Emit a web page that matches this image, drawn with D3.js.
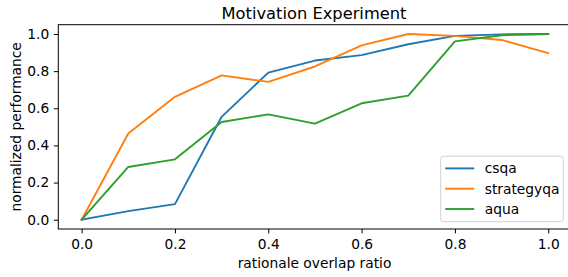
<!DOCTYPE html>
<html>
<head>
<meta charset="utf-8">
<script src="https://cdn.jsdelivr.net/npm/d3@7"></script>
<style>
  body { margin: 0; background: #fff; }
  svg { display: block; font-family: "DejaVu Sans", sans-serif; }
</style>
</head>
<body>
<div id="chart"></div>
<script>
// values
const ratios = [0.0, 0.1, 0.2, 0.3, 0.4, 0.5, 0.6, 0.7, 0.8, 0.9, 1.0]
const csqa = [0.0, 0.046, 0.084, 0.554, 0.792, 0.857, 0.886, 0.945, 0.99, 0.998, 1.0]
const strategyqa = [0.0, 0.464, 0.662, 0.777, 0.742, 0.825, 0.939, 1.0, 0.99, 0.968, 0.897]
const aqua = [0.0, 0.284, 0.325, 0.526, 0.567, 0.517, 0.627, 0.668, 0.96, 0.993, 1.0]
const seriesNames = ["csqa", "strategyqa", "aqua"]
const xTicks = [0.0, 0.2, 0.4, 0.6, 0.8, 1.0]
const yTicks = [0.0, 0.2, 0.4, 0.6, 0.8, 1.0]

function drawChart() {
    const series = [csqa, strategyqa, aqua]
    const colors = ["#1f77b4", "#ff7f0e", "#2ca02c"]
    const fontSize = 13.8

    let dimensions = {
        width: 568,
        height: 277,
        margin: {
            top: 24.7,
            right: -3.6,
            bottom: 48,
            left: 58.3,
        },
    }
    dimensions.boundedWidth = dimensions.width - dimensions.margin.left - dimensions.margin.right
    dimensions.boundedHeight = dimensions.height - dimensions.margin.top - dimensions.margin.bottom

    const svg = d3.select("#chart").append("svg")
        .attr("width", dimensions.width)
        .attr("height", dimensions.height)

    const bounds = svg.append("g")
        .attr("transform", `translate(${dimensions.margin.left},${dimensions.margin.top})`)

    // matplotlib style 5% padding on both axes
    let x = d3.scaleLinear()
        .domain([-0.05, 1.05])
        .range([0, dimensions.boundedWidth])

    let y = d3.scaleLinear()
        .domain([-0.05, 1.05])
        .range([dimensions.boundedHeight, 0])

    const line = d3.line()
        .x((d, i) => x(ratios[i]))
        .y(d => y(d))

    bounds.selectAll("path.series")
        .data(series)
        .enter()
        .append("path")
        .attr("class", "series")
        .attr("d", d => line(d))
        .attr("fill", "none")
        .attr("stroke", (d, i) => colors[i])
        .attr("stroke-width", 1.9)
        .attr("stroke-linejoin", "round")
        .attr("stroke-linecap", "square")

    // axes
    const xAxis = bounds.append("g")
        .attr("transform", `translate(0,${dimensions.boundedHeight})`)
        .call(d3.axisBottom(x).tickValues(xTicks).tickFormat(d3.format(".1f")).tickSize(4.4).tickPadding(5.8).tickSizeOuter(0))
    const yAxis = bounds.append("g")
        .call(d3.axisLeft(y).tickValues(yTicks).tickFormat(d3.format(".1f")).tickSize(4.4).tickPadding(4.6).tickSizeOuter(0))

    for (const ax of [xAxis, yAxis]) {
        ax.select(".domain").remove()
        ax.selectAll("line").attr("stroke", "#000").attr("stroke-width", 1)
        ax.selectAll("text").attr("font-size", fontSize).attr("fill", "#000").attr("font-family", "DejaVu Sans")
    }

    // spines
    bounds.append("rect")
        .attr("x", 0)
        .attr("y", 0)
        .attr("width", dimensions.boundedWidth)
        .attr("height", dimensions.boundedHeight)
        .attr("fill", "none")
        .attr("stroke", "#000")
        .attr("stroke-width", 1)

    // title and labels
    svg.append("text")
        .attr("x", 314)
        .attr("y", 18.5)
        .attr("text-anchor", "middle")
        .attr("font-size", 16.3)
        .text("Motivation Experiment")

    svg.append("text")
        .attr("x", 314.5)
        .attr("y", 268)
        .attr("text-anchor", "middle")
        .attr("font-size", fontSize)
        .text("rationale overlap ratio")

    svg.append("text")
        .attr("transform", `translate(20.5,${dimensions.margin.top + dimensions.boundedHeight / 2}) rotate(-90)`)
        .attr("text-anchor", "middle")
        .attr("font-size", fontSize)
        .text("normalized performance")

    // legend
    const legend = svg.append("g").attr("transform", "translate(440.7,156.2)")
    legend.append("rect")
        .attr("width", 122.6)
        .attr("height", 65.5)
        .attr("rx", 3)
        .attr("fill", "#fff")
        .attr("fill-opacity", 0.8)
        .attr("stroke", "#d0d0d0")
        .attr("stroke-width", 1)

    seriesNames.forEach((name, i) => {
        const row = legend.append("g").attr("transform", `translate(0,${12.2 + i * 20.3})`)
        row.append("line")
            .attr("x1", 4.5)
            .attr("x2", 33.5)
            .attr("stroke", colors[i])
            .attr("stroke-width", 1.9)
        row.append("text")
            .attr("x", 44)
            .attr("dy", "0.36em")
            .attr("font-size", fontSize)
            .text(name)
    })
}

drawChart()
</script>
</body>
</html>
